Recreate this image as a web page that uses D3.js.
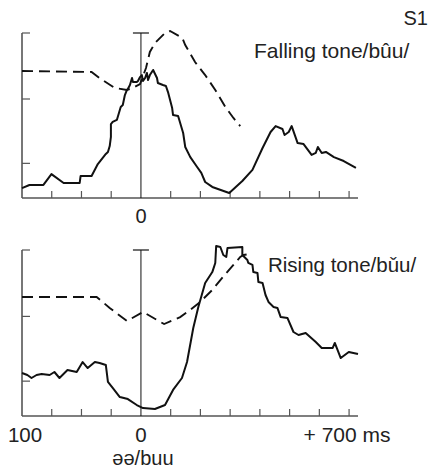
<!DOCTYPE html>
<html>
<head>
<meta charset="utf-8">
<script src="https://cdn.jsdelivr.net/npm/d3@7"></script>
<style>
  body { margin: 0; background: #fff; }
  svg text { font-family: "Liberation Sans", Arial, "DejaVu Sans", sans-serif; fill: #222; }
</style>
</head>
<body>
<div id="chart"></div>
<script>
// Time (ms) and value (arbitrary units)
const fallSolidMs = [-400, -375, -328, -301, -260, -206, -203, -166, -145, -118, -111, -105, -101, -101, -95, -81, -74, -68, -61, -54, -47, -44, -37, -30, -27, -14, -10, -3, 3, 7, 14, 20, 24, 30, 41, 54, 57, 74, 84, 91, 105, 108, 125, 142, 149, 166, 189, 203, 216, 240, 297, 341, 375, 409, 436, 453, 476, 483, 497, 507, 527, 547, 574, 588, 595, 608, 622, 649, 682, 723];
const fallSolidVal = [6, 7.9, 7.9, 14.5, 9.1, 9.1, 13.3, 13.3, 20.6, 26.7, 27.9, 31.5, 37, 44.8, 46.1, 47.3, 51.5, 55.2, 56.4, 62.4, 65.5, 66.1, 68.5, 72.7, 70.3, 70.3, 70.9, 73.3, 74.5, 70.9, 72.7, 75.8, 71.5, 74.5, 77.6, 72.7, 69.7, 68.5, 67.9, 64.2, 54.5, 50.3, 49.7, 39.4, 30.9, 24.8, 18.8, 15.2, 9.7, 6.7, 3, 10.3, 17, 30.3, 40, 43.6, 41.8, 38.2, 40, 43.6, 33.3, 32.7, 26.1, 27.3, 30.9, 27.3, 27.9, 24.8, 22.4, 18.2];

const fallDashMs = [-400, -166, -139, -88, -47, -27, -3, 17, 30, 47, 81, 98, 139, 149, 182, 216, 250, 284, 311, 334];
const fallDashVal = [77, 76.4, 72.7, 66.7, 65.5, 66.7, 69.1, 78.8, 88.5, 93.9, 100, 101.2, 97, 92.7, 82.4, 74.5, 65.5, 55.2, 48.5, 43.6];

const riseSolidMs = [-400, -382, -368, -351, -334, -307, -291, -274, -247, -216, -196, -179, -155, -139, -118, -111, -95, -71, -44, -14, 7, 47, 81, 108, 138, 155, 176, 193, 216, 240, 250, 253, 267, 277, 287, 291, 341, 341, 358, 361, 375, 378, 392, 395, 409, 419, 429, 446, 459, 470, 493, 513, 530, 554, 588, 608, 645, 652, 672, 699, 730];
const riseSolidVal = [25.9, 24.7, 22.9, 24.7, 25.3, 24.7, 26.5, 22.9, 27.7, 26.5, 32.5, 28.9, 32.5, 31.9, 30.7, 20.5, 16.9, 11.4, 10.2, 6.6, 4.8, 4.2, 6.6, 15.7, 22.9, 32.5, 53, 65.7, 80.1, 86.7, 92.2, 102.4, 101.8, 97, 95.8, 101.2, 101.8, 97, 94, 92.2, 91, 86.7, 86.1, 80.7, 80.1, 72.9, 68.7, 65.7, 65.1, 59.6, 59, 50.6, 48.8, 50, 44.6, 41, 41, 44, 34.9, 38.6, 37.3];

const riseDashMs = [-400, -149, -105, -47, 7, 78, 132, 166, 199, 240, 267, 311, 334, 345, 368];
const riseDashVal = [71.7, 71.7, 65.1, 57.2, 62.7, 55.4, 59.6, 63.9, 68.7, 75.9, 81.9, 91, 95.8, 97, 97.6];

// Axis ticks
const xTicks = [-300, -200, -100, 100, 200, 300, 400, 500, 600, 700];
const yTicks = [21, 60, 100];

const width = 430, height = 470;

const svg = d3.select("#chart")
  .append("svg")
  .attr("width", width)
  .attr("height", height);

// Shared horizontal scale, one vertical scale per panel
const x = d3.scaleLinear().domain([-400, 730]).range([22, 358]);

const panels = [
  { top: 33, bottom: 198, solidMs: fallSolidMs, solidVal: fallSolidVal, dashMs: fallDashMs, dashVal: fallDashVal },
  { top: 250, bottom: 416, solidMs: riseSolidMs, solidVal: riseSolidVal, dashMs: riseDashMs, dashVal: riseDashVal }
];

panels.forEach(p => {
  const y = d3.scaleLinear().domain([0, 100]).range([p.bottom, p.top]);
  const g = svg.append("g");

  // Bottom axis line and upward ticks
  g.append("line")
    .attr("x1", x(-400)).attr("x2", x(730))
    .attr("y1", y(0)).attr("y2", y(0))
    .attr("stroke", "#555").attr("stroke-width", 1.6);

  g.selectAll(".xtick")
    .data(xTicks)
    .enter().append("line")
    .attr("x1", d => x(d)).attr("x2", d => x(d))
    .attr("y1", y(0)).attr("y2", y(0) - 7)
    .attr("stroke", "#555").attr("stroke-width", 1.2);

  // Left axis with inward ticks
  g.append("line")
    .attr("x1", x(-400)).attr("x2", x(-400))
    .attr("y1", y(100)).attr("y2", y(0))
    .attr("stroke", "#555").attr("stroke-width", 1.6);

  g.selectAll(".ytick")
    .data(yTicks)
    .enter().append("line")
    .attr("x1", x(-400)).attr("x2", x(-400) + 8)
    .attr("y1", d => y(d)).attr("y2", d => y(d))
    .attr("stroke", "#555").attr("stroke-width", 1.2);

  // Onset line at 0 ms with a cap
  g.append("line")
    .attr("x1", x(0)).attr("x2", x(0))
    .attr("y1", y(100)).attr("y2", y(0))
    .attr("stroke", "#111").attr("stroke-width", 1);
  g.append("line")
    .attr("x1", x(0) - 8).attr("x2", x(0) + 8)
    .attr("y1", y(100)).attr("y2", y(100))
    .attr("stroke", "#111").attr("stroke-width", 1.2);

  const line = d3.line()
    .x(d => x(d[0]))
    .y(d => y(d[1]));

  // Dashed curve
  g.append("path")
    .datum(d3.zip(p.dashMs, p.dashVal))
    .attr("d", line)
    .attr("fill", "none")
    .attr("stroke", "#111")
    .attr("stroke-width", 1.9)
    .attr("stroke-dasharray", "11,6");

  // Solid curve
  g.append("path")
    .datum(d3.zip(p.solidMs, p.solidVal))
    .attr("d", line)
    .attr("fill", "none")
    .attr("stroke", "#111")
    .attr("stroke-width", 2)
    .attr("stroke-linejoin", "round");
});

// Labels
const label = (tx, ty, txt, anchor, size) => svg.append("text")
  .attr("x", tx).attr("y", ty)
  .attr("text-anchor", anchor)
  .attr("font-size", size)
  .text(txt);

label(428, 25, "S1", "end", 20);
label(254, 58, "Falling tone/bûu/", "start", 21);
label(268, 272, "Rising tone/bǔu/", "start", 20.5);

label(x(0), 223, "0", "middle", 20);
label(x(-400) + 3, 442, "100", "middle", 20.5);
label(x(0), 442, "0", "middle", 20.5);
label(x(700) - 2, 442, "+ 700 ms", "middle", 21);
label(x(0) + 2, 465, "əə/buu", "middle", 20);
</script>
</body>
</html>
